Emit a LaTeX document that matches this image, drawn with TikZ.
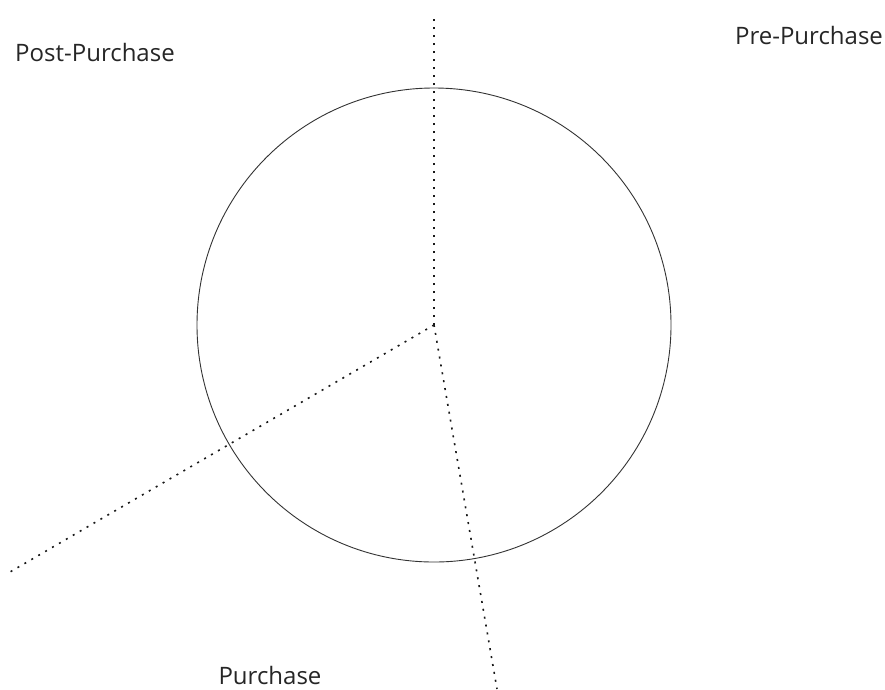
\documentclass[tikz,border=0pt]{standalone}
\usepackage{fontspec}
\setmainfont{Open Sans}
\tikzset{
  lbl/.style={font=\fontsize{24}{28}\selectfont, text=black!85, inner sep=0pt},
  dotline/.style={line width=1.6pt, dash pattern=on 2pt off 6pt, black!90},
  ring/.style={line width=0.9pt, black!80}
}
\begin{document}
\begin{tikzpicture}[x=1pt,y=-1pt]
\useasboundingbox (0,0) rectangle (885,689);
\coordinate (c) at (434,325);
\coordinate (top) at (434,14);
\coordinate (ll) at (10,572);
\coordinate (lr) at (497,689);
\node[ring, circle, draw, minimum size=474pt, inner sep=0pt] (circ) at (c) {};
\draw[dotline] (c) -- (top);
\draw[dotline] (c) -- (ll);
\draw[dotline] (c) -- (lr);
\node[lbl] (post) at (95,52) {Post-Purchase};
\node[lbl] (pre) at (809,35) {Pre-Purchase};
\node[lbl] (pur) at (270,675) {Purchase};
\end{tikzpicture}
\end{document}
